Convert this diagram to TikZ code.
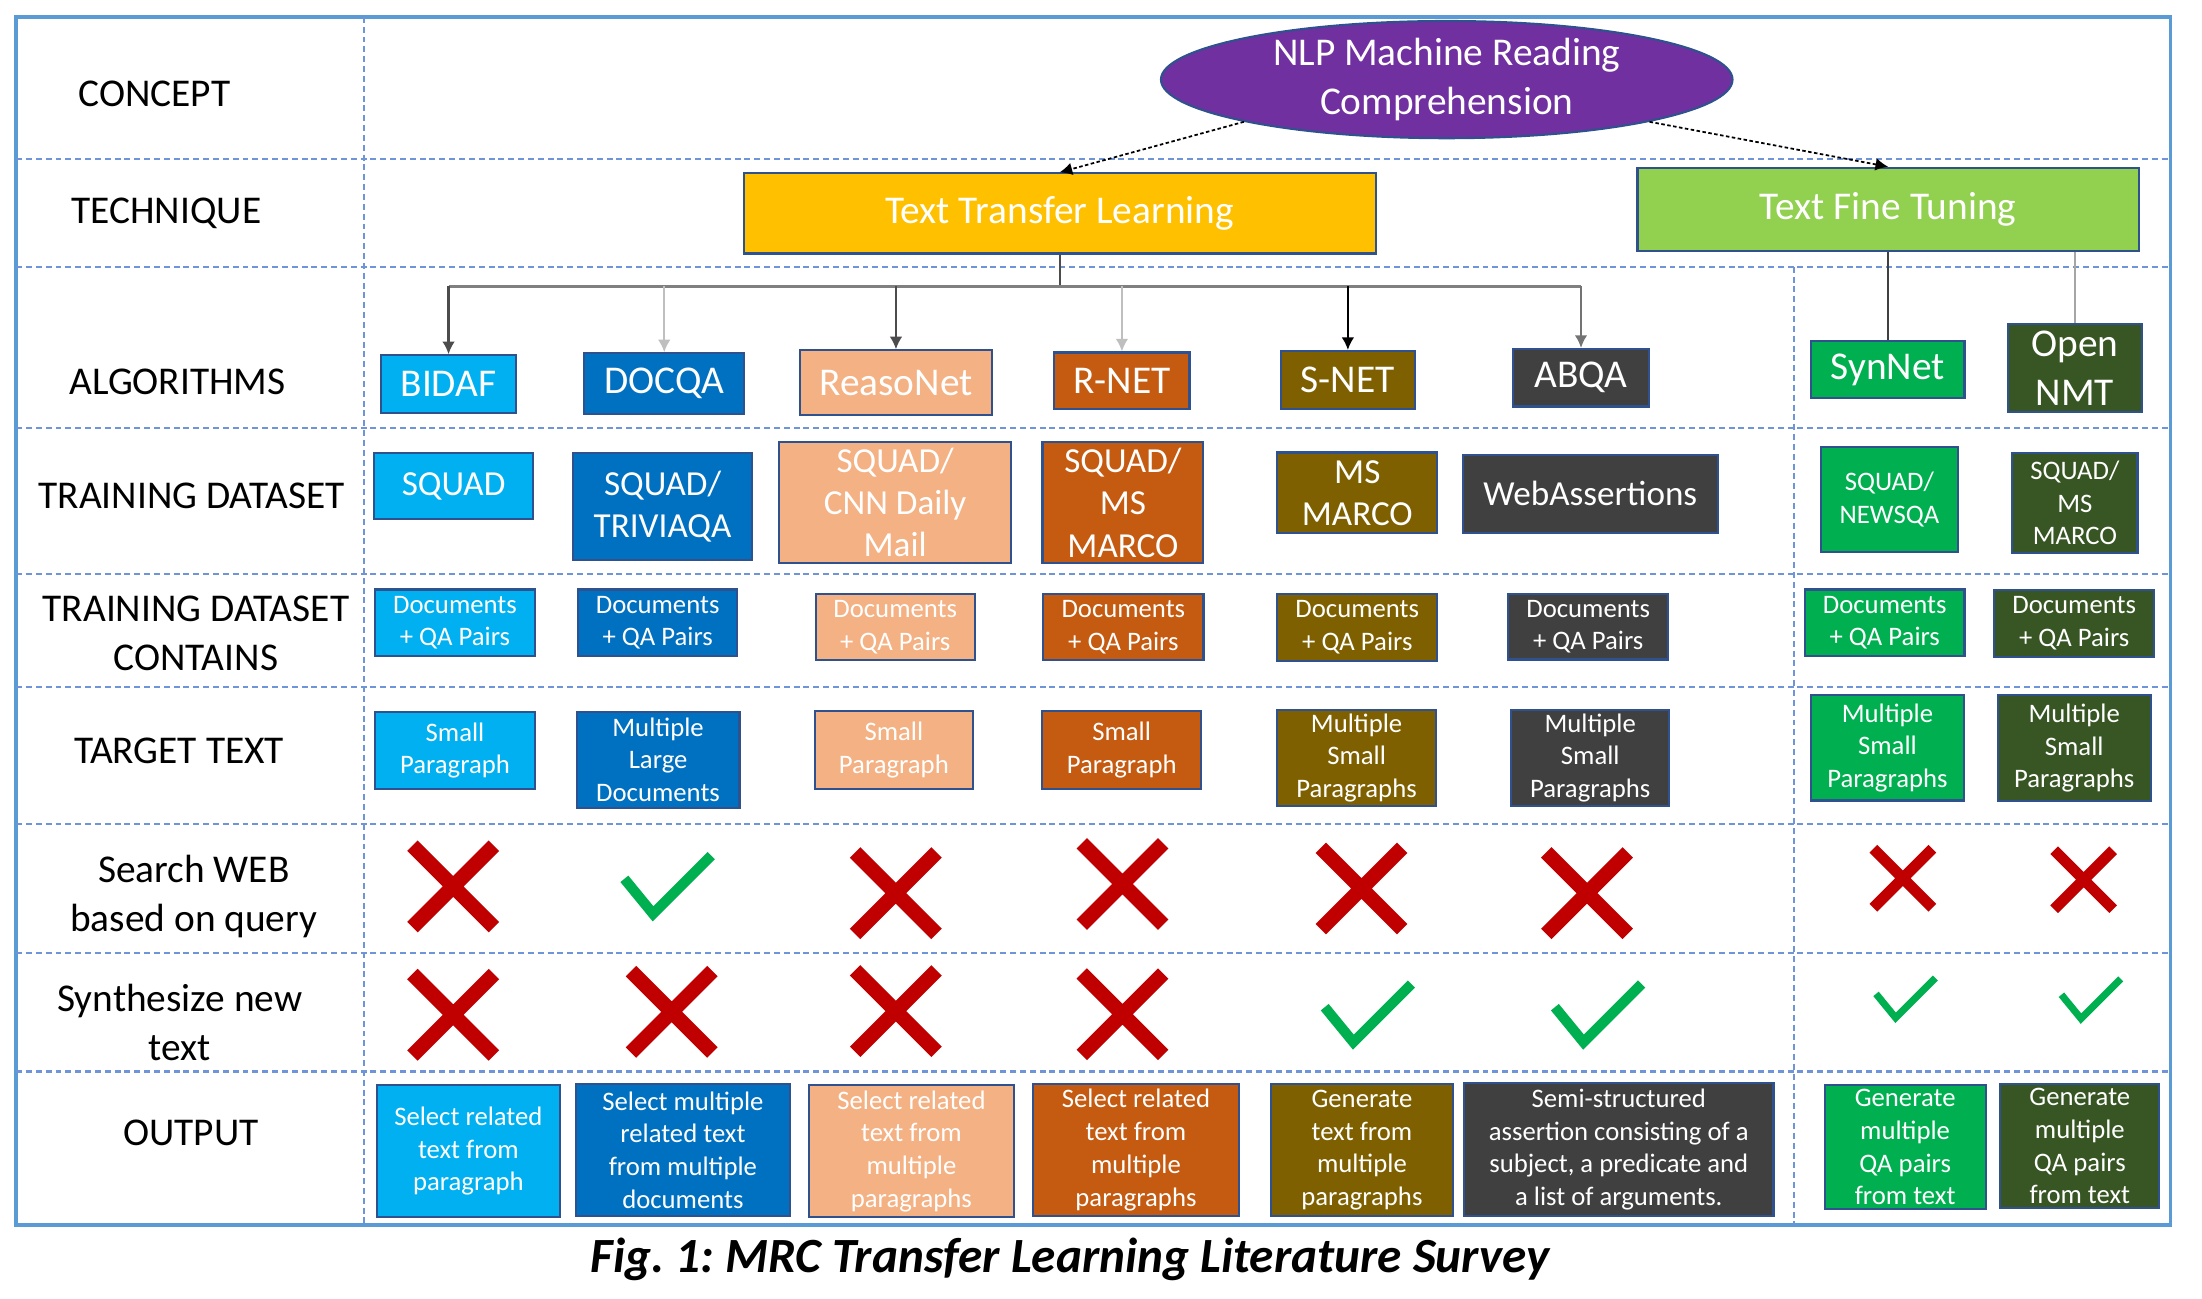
\documentclass[tikz,border=0pt]{standalone}
\usepackage{fontspec}
\setmainfont{Carlito}
\usepackage{tikz}
\usetikzlibrary{shapes.geometric, arrows.meta}

\definecolor{frameblue}{HTML}{5B9BD5}
\definecolor{gridblue}{HTML}{6F95D8}
\definecolor{outl}{HTML}{2F528F}
\definecolor{cyanbox}{HTML}{00B0F0}
\definecolor{bluebox}{HTML}{0070C0}
\definecolor{peachbox}{HTML}{F4B183}
\definecolor{rustbox}{HTML}{C55A11}
\definecolor{olivebox}{HTML}{7F6000}
\definecolor{greybox}{HTML}{404040}
\definecolor{greenbox}{HTML}{00B050}
\definecolor{forestbox}{HTML}{375623}
\definecolor{goldbox}{HTML}{FFC000}
\definecolor{limebox}{HTML}{92D050}
\definecolor{purplebox}{HTML}{7030A0}
\definecolor{noRed}{HTML}{C00000}
\definecolor{yesGreen}{HTML}{00B050}

\newcommand{\pxu}{0.14043mm}

\begin{document}
\begin{tikzpicture}[x=\pxu, y=-\pxu, >={Latex[length=3.6pt,width=3.6pt]},
  frame/.style={draw=frameblue, line width=1pt},
  grid/.style={draw=gridblue, line width=0.6pt, dash pattern=on 1.7pt off 1.1pt},
  box/.style={draw=outl, line width=0.6pt, text=white, align=center, inner sep=0pt},
  sz/.style 2 args={minimum width=#1*\pxu, minimum height=#2*\pxu},
  head/.style={font=\fontsize{11.2}{14}\selectfont, align=center},
  data/.style={font=\fontsize{10}{12}\selectfont},
  small/.style={font=\fontsize{7.6}{9.3}\selectfont},
  tree/.style={line width=0.6pt},
  link/.style={->, line width=0.5pt, dash pattern=on 1pt off 0.7pt},
  xbig/.style={scale=29, line width=4.2pt},
  xsmall/.style={scale=21, line width=3.1pt},
  vbig/.style={scale=30, line width=2.9pt},
  vsmall/.style={scale=20.5, line width=2pt},
  pics/nomark/.style={code={\draw[noRed, line cap=butt] (-1,-1) -- (1,1) (-1,1) -- (1,-1);}},
  pics/yesmark/.style={code={\draw[yesGreen, line cap=butt, line join=miter] (-1.03,-0.14) -- (-0.35,0.69) -- (1.03,-0.69);}}]
\useasboundingbox (0,0) rectangle (1568,925);

% table frame and dashed rows
\draw[frame] (11.5,12) rectangle (1545.5,872.3);
\foreach \y in {113.5,190,304.5,408.5,489,587,678.5,763}
  \draw[grid] (11.5,\y) -- (1545.5,\y);
\draw[grid] (259.5,12) -- (259.5,872.3);
\draw[grid] (1277.5,190) -- (1277.5,872.3);

% row titles
\node[head] (lconcept) at (110,67) {CONCEPT};
\node[head] (ltech) at (118.5,152) {TECHNIQUE};
\node[head] (lalgo) at (126.5,272) {ALGORITHMS};
\node[head] (ldata) at (136.5,353) {TRAINING DATASET};
\node[head] (lhas) at (139.5,451) {TRAINING DATASET\\CONTAINS};
\node[head] (ltarget) at (127.5,535) {TARGET TEXT};
\node[head] (lsearch) at (138,638.5) {Search WEB\\based on query};
\node[head] (lsynth) at (128,728) {Synthesize new\\text};
\node[head] (lout) at (136,807) {OUTPUT};

% concept and techniques
\node[box, ellipse, fill=purplebox, sz={407}{71.7}, head] (nlp) at (1030.2,56.7) {NLP Machine Reading\\Comprehension};
\node[box, fill=goldbox, sz={450}{57}, head] (ttl) at (754.5,152) {Text Transfer Learning};
\node[box, fill=limebox, sz={357}{59}, head] (tft) at (1344.5,149) {Text Fine Tuning};

% algorithms
\node[box, fill=cyanbox, sz={96.3}{41}, head] (bidaf) at (319.4,273.5) {BIDAF};
\node[box, fill=bluebox, sz={114}{43}, head] (docqa) at (473,273.1) {DOCQA};
\node[box, fill=peachbox, sz={137}{46}, head] (reaso) at (638,272.5) {ReasoNet};
\node[box, fill=rustbox, sz={96.2}{40.5}, head] (rnet) at (798.9,271.3) {R-NET};
\node[box, fill=olivebox, sz={95.6}{41}, head] (snet) at (959.8,270.5) {S-NET};
\node[box, fill=greybox, sz={96.4}{41}, head] (abqa) at (1125.8,269) {ABQA};
\node[box, fill=greenbox, sz={109.3}{41}, head] (synnet) at (1344.2,263.1) {SynNet};
\node[box, fill=forestbox, sz={95}{62.3}, head] (onmt) at (1477.5,262) {Open\\NMT};

% training dataset
\node[box, fill=cyanbox, sz={113.5}{47}, data] (data1) at (323,346.3) {SQUAD};
\node[box, fill=bluebox, sz={127.5}{76}, data] (data2) at (471.8,360.8) {SQUAD/\\TRIVIAQA};
\node[box, fill=peachbox, sz={164.8}{86.4}, data] (data3) at (637.4,358) {SQUAD/\\CNN Daily\\Mail};
\node[box, fill=rustbox, sz={114.6}{86}, data] (data4) at (799.6,358) {SQUAD/\\MS\\MARCO};
\node[box, fill=olivebox, sz={114.1}{57.5}, data] (data5) at (966.5,351) {MS\\MARCO};
\node[box, fill=greybox, sz={181.8}{55.5}, data] (data6) at (1132.4,351.5) {WebAssertions};
\node[box, fill=greenbox, sz={97.1}{74.5}, small] (data7) at (1345.4,355.8) {SQUAD/\\NEWSQA};
\node[box, fill=forestbox, sz={89.1}{70.7}, small] (data8) at (1477.5,358.2) {SQUAD/\\MS\\MARCO};

% dataset contents
\node[box, fill=cyanbox, sz={113.4}{47.5}, small] (has1) at (324,443.5) {Documents\\+ QA Pairs};
\node[box, fill=bluebox, sz={113.4}{47.5}, small] (has2) at (468.3,443.5) {Documents\\+ QA Pairs};
\node[box, fill=peachbox, sz={113}{47.2}, small] (has3) at (637.5,446.4) {Documents\\+ QA Pairs};
\node[box, fill=rustbox, sz={114.1}{47.2}, small] (has4) at (799.9,446.4) {Documents\\+ QA Pairs};
\node[box, fill=olivebox, sz={114.1}{47.7}, small] (has5) at (966.5,446.7) {Documents\\+ QA Pairs};
\node[box, fill=greybox, sz={113.7}{46.8}, small] (has6) at (1130.9,446.2) {Documents\\+ QA Pairs};
\node[box, fill=greenbox, sz={113.6}{47.5}, small] (has7) at (1342.1,443.5) {Documents\\+ QA Pairs};
\node[box, fill=forestbox, sz={114.1}{47.2}, small] (has8) at (1477,444) {Documents\\+ QA Pairs};

% target text
\node[box, fill=cyanbox, sz={113.4}{55.3}, small] (tgt1) at (324,534.5) {Small\\Paragraph};
\node[box, fill=bluebox, sz={115.9}{68.4}, small] (tgt2) at (468.6,541) {Multiple\\Large\\Documents};
\node[box, fill=peachbox, sz={112.9}{55.9}, small] (tgt3) at (636.5,534) {Small\\Paragraph};
\node[box, fill=rustbox, sz={113.4}{56}, small] (tgt4) at (798.7,534) {Small\\Paragraph};
\node[box, fill=olivebox, sz={113.1}{68.1}, small] (tgt5) at (966,539.7) {Multiple\\Small\\Paragraphs};
\node[box, fill=greybox, sz={112.7}{68.1}, small] (tgt6) at (1132.4,539.7) {Multiple\\Small\\Paragraphs};
\node[box, fill=greenbox, sz={108.7}{75}, small] (tgt7) at (1344,532.5) {Multiple\\Small\\Paragraphs};
\node[box, fill=forestbox, sz={109.1}{75.5}, small] (tgt8) at (1477,532.7) {Multiple\\Small\\Paragraphs};

% output
\node[box, fill=cyanbox, sz={130.3}{94.2}, small] (out1) at (333.5,819.7) {Select related\\text from\\paragraph};
\node[box, fill=bluebox, sz={152.4}{94}, small] (out2) at (486.3,818.9) {Select multiple\\related text\\from multiple\\documents};
\node[box, fill=peachbox, sz={145.9}{94.2}, small] (out3) at (649,819.7) {Select related\\text from\\multiple\\paragraphs};
\node[box, fill=rustbox, sz={146.1}{94}, small] (out4) at (808.9,818.9) {Select related\\text from\\multiple\\paragraphs};
\node[box, fill=olivebox, sz={129.5}{94}, small] (out5) at (969.8,818.9) {Generate\\text from\\multiple\\paragraphs};
\node[box, fill=greybox, sz={220.3}{94.9}, small] (out6) at (1152.7,818.5) {Semi-structured\\assertion consisting of a\\subject, a predicate and\\a list of arguments.};
\node[box, fill=greenbox, sz={114.6}{88.6}, small] (out7) at (1356.6,816.9) {Generate\\multiple\\QA pairs\\from text};
\node[box, fill=forestbox, sz={113.1}{88.6}, small] (out8) at (1481,816.2) {Generate\\multiple\\QA pairs\\from text};

% connectors
\draw[link] (nlp.south west) -- (ttl.north);
\draw[link] (nlp.south east) -- (tft.north);
\coordinate (bus) at (754.5,204);
\draw[tree, black!70] (ttl.south) -- (bus);
\draw[tree, black!50] (bidaf.north |- bus) -- (abqa.north |- bus);
\draw[tree, ->, black!70] (bidaf.north |- bus) -- (bidaf.north);
\draw[tree, ->, black!25] (docqa.north |- bus) -- (docqa.north);
\draw[tree, ->, black!70] (reaso.north |- bus) -- (reaso.north);
\draw[tree, ->, black!25] (rnet.north |- bus) -- (rnet.north);
\draw[tree, ->, black] (snet.north |- bus) -- (snet.north);
\draw[tree, ->, black!55] (abqa.north |- bus) -- (abqa.north);
\draw[tree, black!75] (tft.south -| synnet.north) -- (synnet.north);
\draw[tree, black!35] (tft.south -| onmt.north) -- (onmt.north);

% search web row
\pic[xbig] at (322.7,631.2) {nomark};
\pic[vbig] at (475.5,630) {yesmark};
\pic[xbig] at (637.9,636) {nomark};
\pic[xbig] at (799.3,629.5) {nomark};
\pic[xbig] at (969.5,632.7) {nomark};
\pic[xbig] at (1130.1,636) {nomark};
\pic[xsmall] at (1355,625.4) {nomark};
\pic[xsmall] at (1483.7,626.4) {nomark};

% synthesize row
\pic[xbig] at (322.7,722.6) {nomark};
\pic[xbig] at (478.3,720.5) {nomark};
\pic[xbig] at (637.9,720) {nomark};
\pic[xbig] at (799.3,722.2) {nomark};
\pic[vbig] at (974.2,721.4) {yesmark};
\pic[vbig] at (1138.1,721.4) {yesmark};
\pic[vsmall] at (1357,710.6) {yesmark};
\pic[vsmall] at (1489,711.2) {yesmark};

\node[font=\fontsize{14}{16}\selectfont\bfseries\itshape] (caption) at (762,897) {\frenchspacing Fig. 1: MRC Transfer Learning Literature Survey};
\end{tikzpicture}
\end{document}
